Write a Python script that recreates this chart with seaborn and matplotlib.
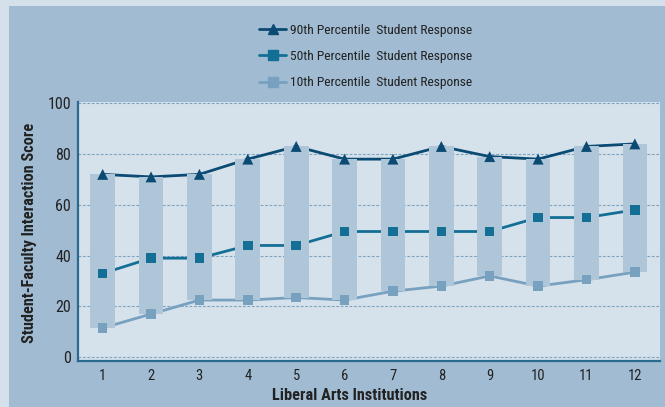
import matplotlib
matplotlib.use("Agg")
import matplotlib.pyplot as plt
from matplotlib import font_manager as fm
from matplotlib.lines import Line2D
from matplotlib.patches import Rectangle
import seaborn as sns
import pandas as pd
import numpy as np

# ---- data ----
institutions = [1, 2, 3, 4, 5, 6, 7, 8, 9, 10, 11, 12]
p90 = [72, 71, 72, 78, 83, 78, 78, 83, 79, 78, 83, 84]
p50 = [33, 39, 39, 44, 44, 49.5, 49.5, 49.5, 49.5, 55, 55, 58]
p10 = [11.5, 17, 22.5, 22.5, 23.5, 22.5, 26, 28, 32, 28, 30.5, 33.5]
series_names = ["90th Percentile  Student Response",
                "50th Percentile  Student Response",
                "10th Percentile  Student Response"]
y_ticks = [0, 20, 40, 60, 80, 100]
x_label = "Liberal Arts Institutions"
y_label = "Student-Faculty Interaction Score"

# ---- style ----
sns.set_style("white")
ttf = fm.fontManager.ttflist
names = {f.name for f in ttf}
family = "DejaVu Sans"
stretch = "normal"
fsize = 9
for cand, sz in [("Liberation Sans Narrow", 10), ("Roboto Condensed", 10),
                 ("Open Sans Condensed", 10)]:
    if cand in names:
        family, fsize = cand, sz
        break
else:
    if any(f.name == "DejaVu Sans" and f.stretch == "condensed" for f in ttf):
        stretch = "condensed"
        fsize = 9
plt.rcParams["font.family"] = [family, "DejaVu Sans"]
plt.rcParams["font.stretch"] = stretch

c_outer = "#d4e1ea"
c_panel = "#a0bbd2"
c_axbg = "#d5e2ec"
c_box = "#afc6d9"
c_90 = "#0b4a73"
c_50 = "#136f95"
c_10 = "#78a1c0"
c_spine = "#2b6a90"
c_grid = "#7ea3bf"
c_text = "#222222"

W, H = 665, 407
fig = plt.figure(figsize=(W / 100, H / 100), dpi=100)
fig.patch.set_facecolor(c_outer)
fig.add_artist(Rectangle((9 / W, 0), 1 - 9 / W, (H - 6) / H,
                         transform=fig.transFigure, facecolor=c_panel,
                         edgecolor="none", zorder=0))

ax_l, ax_r, ax_t, ax_b = 78, 660, 102, 361
ax = fig.add_axes([ax_l / W, (H - ax_b) / H, (ax_r - ax_l) / W, (ax_b - ax_t) / H])
ax.set_facecolor(c_axbg)

df = pd.DataFrame({"inst": institutions, "p90": p90, "p50": p50, "p10": p10})

# range boxes
ax.bar(df["inst"], df["p90"] - df["p10"], bottom=df["p10"], width=0.51,
       color=c_box, zorder=2, linewidth=0)

# lines (behind boxes)
for col, c in [("p90", c_90), ("p50", c_50), ("p10", c_10)]:
    sns.lineplot(data=df, x="inst", y=col, color=c, lw=2, ax=ax, zorder=1)

# markers (over boxes)
sns.scatterplot(data=df, x="inst", y="p90", marker="^", s=62, color=c_90,
                edgecolor="none", ax=ax, zorder=4)
sns.scatterplot(data=df, x="inst", y="p50", marker="s", s=46, color=c_50,
                edgecolor="none", ax=ax, zorder=4)
sns.scatterplot(data=df, x="inst", y="p10", marker="s", s=46, color=c_10,
                edgecolor="none", ax=ax, zorder=4)

ax.set_xlim(0.49, 12.52)
ax.set_ylim(-1.5, 100.5)
ax.set_xticks(institutions)
ax.set_yticks(y_ticks)
ax.yaxis.grid(True, color=c_grid, linestyle=(0, (2.5, 1.5)), linewidth=0.8, zorder=0)
ax.set_axisbelow(True)
for s in ["top", "right"]:
    ax.spines[s].set_visible(False)
for s in ["left", "bottom"]:
    ax.spines[s].set_color(c_spine)
    ax.spines[s].set_linewidth(1.6)
ax.tick_params(axis="x", direction="in", length=4, width=1, color=c_spine,
               labelsize=fsize + 0.5, labelcolor=c_text, pad=6)
ax.tick_params(axis="y", direction="in", length=4, width=1, color=c_spine,
               labelsize=fsize + 1.5, labelcolor=c_text, pad=5)

ax.set_xlabel(x_label, fontsize=fsize + 1.7, fontweight="bold", color=c_text)
ax.set_ylabel(y_label, fontsize=fsize + 1.7, fontweight="bold", color=c_text)
ax.xaxis.set_label_coords((350 - ax_l) / (ax_r - ax_l), -(395 - ax_b) / (ax_b - ax_t))
ax.yaxis.set_label_coords(-(ax_l - 30) / (ax_r - ax_l), (ax_b - 233) / (ax_b - ax_t))
ax.xaxis.label.set_va("center")
ax.yaxis.label.set_va("center")

handles = [
    Line2D([], [], color=c_90, lw=2, marker="^", markersize=7),
    Line2D([], [], color=c_50, lw=2, marker="s", markersize=6.5),
    Line2D([], [], color=c_10, lw=2, marker="s", markersize=6.5),
]
leg = fig.legend(handles, series_names, loc="upper left",
                 bbox_to_anchor=(254 / W, 1 - 18.5 / H), frameon=False,
                 fontsize=fsize - 0.3, handlelength=2.0, handletextpad=0.3,
                 labelspacing=0.98, borderaxespad=0)
for t in leg.get_texts():
    t.set_color(c_text)

fig.savefig("out.png", dpi=100, facecolor=fig.get_facecolor())
